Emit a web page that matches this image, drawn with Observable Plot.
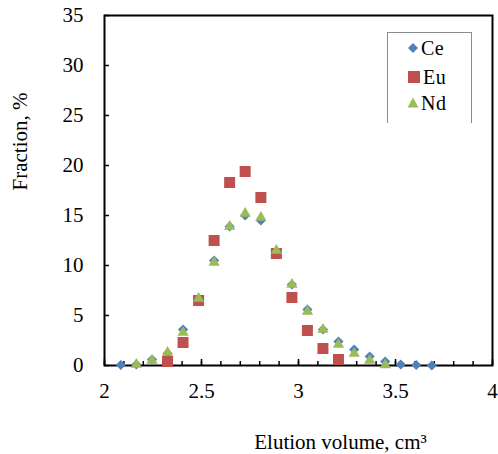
<!DOCTYPE html>
<html>
<head>
<meta charset="utf-8">
<script src="https://cdn.jsdelivr.net/npm/d3@7"></script>
<script src="https://cdn.jsdelivr.net/npm/@observablehq/plot@0.6"></script>
<style>
  body { margin: 0; background: #fff; }
  #wrap { position: relative; width: 498px; height: 454px; font-family: "Liberation Serif", "Times New Roman", serif; }
  #legend { position: absolute; left: 387px; top: 32px; width: 85px; height: 91px;
            border: 1px solid #8c8c8c; border-bottom: none; box-sizing: border-box; background: #fff; }
  .item { position: absolute; left: 19px; height: 24px; display: flex; align-items: center;
          font-size: 20px; line-height: 24px; color: #000; letter-spacing: 0.5px; }
  .item svg { margin-right: 2px; }
</style>
</head>
<body>
<div id="wrap"></div>
<script>
// ---- data ----
const seriesNames = ["Ce", "Eu", "Nd"];
const seriesColors = ["#4F81BD", "#C0504D", "#9BBB59"];

const ceVolume = [2.084, 2.164, 2.245, 2.325, 2.405, 2.485, 2.565, 2.645, 2.725, 2.806, 2.886, 2.966, 3.046, 3.126, 3.206, 3.287, 3.367, 3.447, 3.527, 3.607, 3.687];
const ceFraction = [0.05, 0.1, 0.6, 1.2, 3.6, 6.7, 10.5, 13.9, 15.0, 14.5, 11.4, 8.1, 5.6, 3.6, 2.4, 1.6, 0.9, 0.4, 0.1, 0.05, 0.0];

const euVolume = [2.325, 2.405, 2.485, 2.565, 2.645, 2.725, 2.806, 2.886, 2.966, 3.046, 3.126, 3.206];
const euFraction = [0.4, 2.3, 6.5, 12.5, 18.3, 19.4, 16.8, 11.2, 6.8, 3.5, 1.7, 0.6];

const ndVolume = [2.164, 2.245, 2.325, 2.405, 2.485, 2.565, 2.645, 2.725, 2.806, 2.886, 2.966, 3.046, 3.126, 3.206, 3.287, 3.367, 3.447];
const ndFraction = [0.1, 0.5, 1.3, 3.3, 6.7, 10.3, 13.9, 15.2, 14.8, 11.5, 8.1, 5.4, 3.6, 2.1, 1.2, 0.5, 0.05];

const xMajorTicks = [2, 2.5, 3, 3.5, 4];
const xMinorTicks = d3.range(20, 41).map(d => d / 10);
const yTicks = [0, 5, 10, 15, 20, 25, 30, 35];
const xLabel = "Elution volume, cm\u00B3";
const yLabel = "Fraction, %";

const ce = ceVolume.map((v, i) => ({volume: v, fraction: ceFraction[i]}));
const eu = euVolume.map((v, i) => ({volume: v, fraction: euFraction[i]}));
const nd = ndVolume.map((v, i) => ({volume: v, fraction: ndFraction[i]}));

const chart = Plot.plot({
  width: 498,
  height: 454,
  marginLeft: 104,
  marginRight: 6,
  marginTop: 15,
  marginBottom: 89,
  style: {fontFamily: "'Liberation Serif', 'Times New Roman', serif", fontSize: "21px", color: "#000", background: "#fff", overflow: "visible"},
  x: {domain: [2, 4]},
  y: {domain: [0, 35]},
  marks: [
    Plot.axisX({ticks: xMinorTicks, tickSize: -4, text: null, label: null, strokeWidth: 1.5}),
    Plot.axisX({ticks: xMajorTicks, tickSize: -6, tickPadding: 24, label: null, strokeWidth: 1.5, fontSize: 21,
                tickFormat: d => String(d)}),
    Plot.axisY({ticks: yTicks, tickSize: -5, tickPadding: 26, label: null, strokeWidth: 1.5, fontSize: 21}),
    Plot.frame({stroke: "#000", strokeWidth: 2}),
    Plot.dot(ce, {x: "volume", y: "fraction", symbol: "diamond2", r: 4.6, fill: seriesColors[0], stroke: "none"}),
    Plot.dot(eu, {x: "volume", y: "fraction", symbol: "square", r: 6.2, fill: seriesColors[1], stroke: "none"}),
    Plot.dot(nd, {x: "volume", y: "fraction", symbol: "triangle", r: 4.2, fill: seriesColors[2], stroke: "none"}),
    Plot.text([yLabel], {frameAnchor: "left", text: d => d, rotate: -90, dx: -84, fontSize: 21, letterSpacing: 0.3}),
    Plot.text([xLabel], {frameAnchor: "bottom", text: d => d, dx: 42, dy: 83, fontSize: 21, letterSpacing: 1})
  ]
});

const wrap = document.getElementById("wrap");
wrap.appendChild(chart);

// legend
const legend = document.createElement("div");
legend.id = "legend";
const shapes = [
  c => `<svg width="12" height="12" viewBox="-6 -6 12 12"><path d="M0,-5L5,0L0,5L-5,0Z" fill="${c}"/></svg>`,
  c => `<svg width="14" height="14" viewBox="-7 -7 14 14"><rect x="-6" y="-6" width="12" height="12" fill="${c}"/></svg>`,
  c => `<svg width="12" height="12" viewBox="-6 -6 12 12"><path d="M0,-5.5L5.5,4.5L-5.5,4.5Z" fill="${c}"/></svg>`
];
const tops = [3, 32, 58];
seriesNames.forEach((name, i) => {
  const it = document.createElement("div");
  it.className = "item";
  it.style.top = tops[i] + "px";
  it.innerHTML = shapes[i](seriesColors[i]) + `<span>${name}</span>`;
  legend.appendChild(it);
});
wrap.appendChild(legend);
</script>
</body>
</html>
